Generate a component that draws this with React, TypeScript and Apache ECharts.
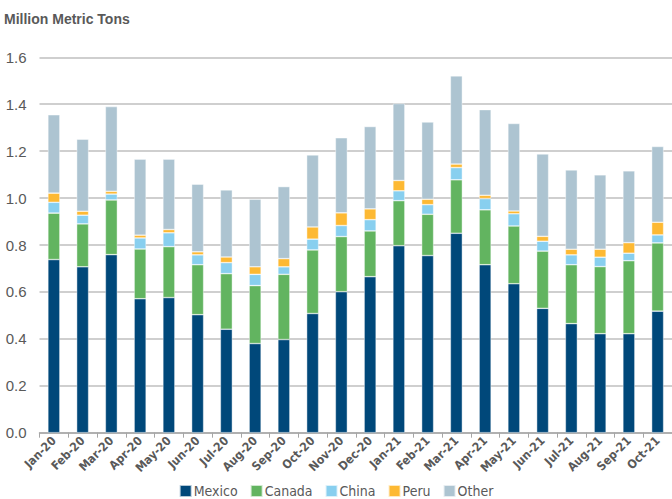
import React, { useEffect, useRef } from "react";
import * as echarts from "echarts";

const categories = ["Jan-20","Feb-20","Mar-20","Apr-20","May-20","Jun-20","Jul-20","Aug-20","Sep-20","Oct-20","Nov-20","Dec-20","Jan-21","Feb-21","Mar-21","Apr-21","May-21","Jun-21","Jul-21","Aug-21","Sep-21","Oct-21"];
const mexico = [0.738,0.707,0.759,0.571,0.576,0.503,0.441,0.380,0.397,0.508,0.601,0.665,0.797,0.755,0.850,0.716,0.635,0.530,0.465,0.422,0.422,0.518];
const canada = [0.198,0.183,0.233,0.212,0.217,0.213,0.237,0.247,0.278,0.271,0.235,0.195,0.192,0.176,0.228,0.234,0.246,0.244,0.251,0.286,0.311,0.291];
const china = [0.046,0.037,0.025,0.047,0.059,0.042,0.047,0.048,0.032,0.046,0.047,0.048,0.042,0.041,0.052,0.048,0.052,0.042,0.042,0.040,0.032,0.034];
const peru = [0.039,0.017,0.012,0.012,0.014,0.013,0.024,0.032,0.035,0.052,0.054,0.046,0.044,0.023,0.015,0.014,0.012,0.021,0.024,0.034,0.045,0.054];
const other = [0.334,0.307,0.361,0.324,0.300,0.288,0.286,0.288,0.307,0.307,0.320,0.351,0.328,0.329,0.376,0.365,0.373,0.351,0.338,0.317,0.306,0.323];
const yTicks = [0, 0.2, 0.4, 0.6, 0.8, 1.0, 1.2, 1.4, 1.6];

const seriesDefs = [
  { name: "Mexico", data: mexico, color: "#00487A" },
  { name: "Canada", data: canada, color: "#62B460" },
  { name: "China", data: china, color: "#88CFEF" },
  { name: "Peru", data: peru, color: "#FDB933" },
  { name: "Other", data: other, color: "#ADC4D1" },
];

const FONT = "'Liberation Sans Narrow', 'DejaVu Sans Condensed', 'Arial Narrow', 'Liberation Sans', sans-serif";

export default function App() {
  const ref = useRef<HTMLDivElement>(null);
  useEffect(() => {
    if (!ref.current) return;
    const chart = echarts.init(ref.current, undefined, { renderer: "svg" });
    chart.setOption({
      animation: false,
      backgroundColor: "#ffffff",
      title: {
        text: "Million Metric Tons",
        left: -1,
        top: 7,
        textStyle: { fontFamily: "'Liberation Sans', Arial, sans-serif", fontSize: 14, fontWeight: "bold", color: "#595959" },
      },
      legend: {
        bottom: -4,
        left: "center",
        itemWidth: 12,
        itemHeight: 12,
        itemGap: 12,
        icon: "rect",
        textStyle: { fontFamily: FONT, fontSize: 14, color: "#595959", padding: [0, 0, 0, -3] },
        data: seriesDefs.map((s) => s.name),
      },
      grid: { left: 39.5, right: -3.5, top: 57.3, bottom: 66.3, containLabel: false },
      xAxis: {
        type: "category",
        data: categories,
        axisLine: { lineStyle: { color: "#A6A6A6", width: 1.5 } },
        axisTick: { show: true, alignWithLabel: false, length: 5, lineStyle: { color: "#A6A6A6" } },
        axisLabel: {
          rotate: 45,
          interval: 0,
          margin: 6,
          fontFamily: FONT,
          fontSize: 12,
          fontWeight: "bold",
          color: "#595959",
        },
      },
      yAxis: {
        type: "value",
        min: 0,
        max: 1.6,
        interval: 0.2,
        axisLine: { show: false },
        axisTick: { show: false },
        splitLine: { lineStyle: { color: "#BFBFBF", width: 1.5 } },
        axisLabel: {
          margin: 13,
          fontFamily: "'Liberation Sans', Arial, sans-serif",
          fontSize: 15,
          color: "#595959",
          formatter: (v: number) => (yTicks.includes(Math.round(v * 10) / 10) ? v.toFixed(1) : ""),
        },
      },
      series: seriesDefs.map((s) => ({
        name: s.name,
        type: "bar",
        stack: "total",
        data: s.data,
        barWidth: 12,
        itemStyle: { color: s.color, borderColor: "rgba(255,255,255,0.7)", borderWidth: 0.6 },
      })),
    });
    return () => chart.dispose();
  }, []);
  return <div ref={ref} style={{ position: "fixed", left: 0, top: 0, width: 672, height: 499 }} />;
}
